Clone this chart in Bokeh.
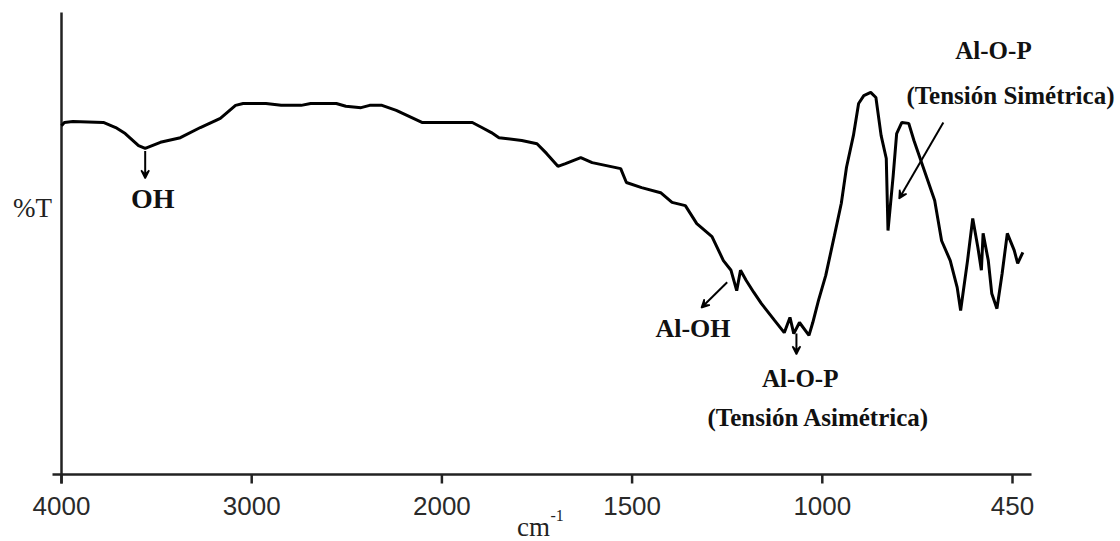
import numpy as np
from bokeh.plotting import figure
from bokeh.models import Range1d, Arrow, VeeHead, Label, ColumnDataSource
from bokeh.core.properties import value
from bokeh.embed import file_html
from bokeh.resources import INLINE

# ---- axis ticks (wavenumber, cm^-1); the axis is piecewise, ticks evenly spaced ----
tick_wn = [4000, 3000, 2000, 1500, 1000, 450]
tick_labels = ["4000", "3000", "2000", "1500", "1000", "450"]

# ---- spectrum (%T in arbitrary 0-100 units) ----
wavenumber = [4000, 3985, 3940, 3780, 3715, 3665, 3595, 3560, 3480, 3375,
              3270, 3165, 3085, 3045, 2925, 2845, 2740, 2690, 2555, 2505,
              2425, 2380, 2315, 2240, 2105, 1920, 1895, 1870, 1850, 1790,
              1750, 1725, 1695, 1675, 1635, 1605, 1530, 1515, 1475, 1425,
              1395, 1360, 1330, 1290, 1260, 1240, 1225, 1215, 1200, 1180,
              1160, 1125, 1100, 1085, 1075, 1060, 1035, 1025, 1010, 990,
              965, 945, 930, 910, 895, 880, 860, 845, 830, 815,
              810, 795, 785, 770, 750, 735, 705, 675, 655, 630,
              610, 600, 580, 565, 550, 540, 535, 520, 510, 495,
              480, 465, 445, 435, 420]
transmittance = [75.5, 76.2, 76.4, 76.2, 75.1, 73.8, 71.2, 70.6, 71.9, 72.9,
                 75.1, 77.1, 79.9, 80.3, 80.3, 79.9, 79.9, 80.3, 80.3, 79.7,
                 79.4, 79.9, 79.9, 78.8, 76.2, 76.2, 75.1, 74.0, 72.9, 72.3,
                 71.6, 69.5, 66.7, 67.3, 68.6, 67.5, 66.2, 63.2, 62.1, 61.0,
                 58.9, 58.2, 54.3, 51.5, 46.3, 44.2, 39.8, 44.2, 42.0, 39.4,
                 37.0, 33.3, 30.7, 34.0, 30.5, 32.9, 30.1, 32.9, 37.7, 43.1,
                 51.7, 58.7, 66.5, 73.4, 80.3, 82.0, 82.7, 81.6, 73.4, 68.4,
                 52.8, 64.7, 73.8, 76.2, 76.0, 72.3, 65.8, 59.3, 50.6, 46.3,
                 40.5, 35.5, 46.3, 55.4, 49.1, 44.2, 52.2, 46.3, 39.2, 35.9,
                 43.5, 52.2, 48.5, 45.7, 48.1]

# ---- annotations ----
ann_text = ["OH", "Al-OH", "Al-O-P", "(Tensión Asimétrica)", "Al-O-P", "(Tensión Simétrica)"]
ann_wn = [3520, 1340, 1058, 1010, 505, 456]
ann_t = [59.7, 31.6, 20.8, 12.3, 91.8, 82.0]
ann_size = ["28px", "26px", "25px", "25px", "25px", "25px"]

arr_wn_start = [3560, 1250, 1068, 650]
arr_t_start = [70.0, 41.6, 30.5, 76.2]
arr_wn_end = [3560, 1318, 1068, 778]
arr_t_end = [64.1, 36.1, 26.0, 59.7]

# ---- page geometry (pixels) ----
W, H = 1120, 541
ORIGIN_X, ORIGIN_Y = 61, 474      # where 4000 cm-1 / 0 %T sit
TICK_STEP_PX = 190.2              # distance between consecutive ticks
Y_TOP_PX = 12                      # where 100 %T sits
X_END = 5.1                        # axis end, in tick units
TICK_LEN = 9
AXIS_OVERHANG = 9


def to_axis(wn):
    """Map wavenumber to position on the piecewise axis (tick i -> i)."""
    wn = np.asarray(wn, dtype=float)
    tw = np.array(tick_wn[::-1], dtype=float)
    idx = np.arange(len(tick_wn))[::-1].astype(float)
    pos = np.interp(wn, tw, idx)
    slope = 1.0 / (tick_wn[-2] - tick_wn[-1])
    pos = np.where(wn < tick_wn[-1], (len(tick_wn) - 1) + (tick_wn[-1] - wn) * slope, pos)
    return pos


ypx = (ORIGIN_Y - Y_TOP_PX) / 100.0
x_range = Range1d(-ORIGIN_X / TICK_STEP_PX, (W - ORIGIN_X) / TICK_STEP_PX)
y_range = Range1d(-(H - ORIGIN_Y) / ypx, ORIGIN_Y / ypx)

p = figure(width=W, height=H, output_backend="svg", toolbar_location=None,
           x_range=x_range, y_range=y_range, min_border=0)
p.axis.visible = False
p.outline_line_color = None
p.xgrid.visible = False
p.ygrid.visible = False
p.background_fill_color = "white"
p.border_fill_color = "white"

AX_COLOR = "#222222"
# axis lines
p.segment(x0=[-AXIS_OVERHANG / TICK_STEP_PX, 0], y0=[0, -AXIS_OVERHANG / ypx],
          x1=[X_END, 0], y1=[0, 100], line_color=AX_COLOR, line_width=2.5)
# ticks
ticks = list(range(len(tick_wn)))
p.segment(x0=ticks, y0=[0] * len(ticks), x1=ticks, y1=[-TICK_LEN / ypx] * len(ticks),
          line_color=AX_COLOR, line_width=2.5)
# tick labels
p.text(x=ticks, y=[0] * len(ticks), text=tick_labels, y_offset=31,
       text_font=value("Liberation Sans"), text_font_size="26px",
       text_align="center", text_baseline="middle", text_color="#2a2a2a")

# spectrum
src = ColumnDataSource(dict(x=to_axis(wavenumber), y=transmittance))
p.line("x", "y", source=src, line_color="black", line_width=3)

# arrows
for ws, ts, we, te in zip(arr_wn_start, arr_t_start, arr_wn_end, arr_t_end):
    p.add_layout(Arrow(end=VeeHead(size=8, fill_color="black", line_color="black", line_width=1.5),
                       x_start=float(to_axis(ws)), y_start=ts,
                       x_end=float(to_axis(we)), y_end=te,
                       line_color="black", line_width=2))

# peak labels
asrc = ColumnDataSource(dict(x=to_axis(ann_wn), y=ann_t, text=ann_text, size=ann_size))
p.text("x", "y", text="text", source=asrc, text_font=value("Liberation Serif"),
       text_font_style="bold", text_font_size="size", text_align="center",
       text_baseline="middle", text_color="#111111")

# axis titles (screen units: frame == whole page, origin bottom-left)
p.add_layout(Label(x=32, y=H - 207, x_units="screen", y_units="screen", text="%T",
                   text_font="Liberation Serif", text_font_size="27px",
                   text_align="center", text_baseline="middle", text_color="#222222"))
p.add_layout(Label(x=533, y=15, x_units="screen", y_units="screen", text="cm",
                   text_font="Liberation Serif", text_font_size="27px",
                   text_align="center", text_baseline="alphabetic", text_color="#222222"))
p.add_layout(Label(x=550, y=26, x_units="screen", y_units="screen", text="-1",
                   text_font="Liberation Serif", text_font_size="16px",
                   text_align="left", text_baseline="alphabetic", text_color="#222222"))

open("out.html", "w").write(file_html(p, INLINE))
